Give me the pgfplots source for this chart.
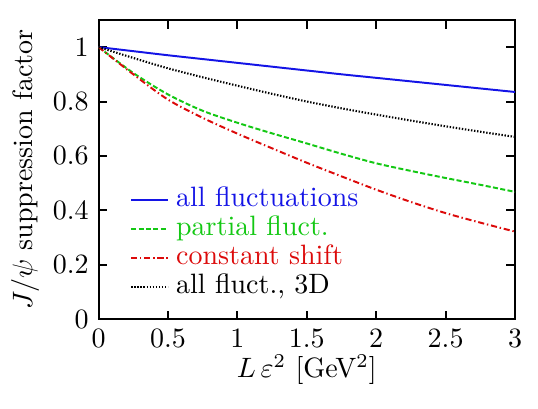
\documentclass[border=0pt]{standalone}
\usepackage{pgfplots}
\pgfplotsset{compat=1.18}

\definecolor{cblue}{RGB}{20,20,230}
\definecolor{cgreen}{RGB}{20,200,20}
\definecolor{cred}{RGB}{220,10,10}

\begin{document}
\begin{tikzpicture}
\begin{axis}[
    scale only axis,
    width=148.7pt,
    height=106.9pt,
    xmin=0, xmax=3,
    ymin=0, ymax=1.1,
    xtick={0,0.5,1,1.5,2,2.5,3},
    ytick={0,0.2,0.4,0.6,0.8,1},
    tick align=inside,
    major tick length=3.1pt,
    axis line style={line width=0.7pt},
    every tick/.style={line width=0.7pt, black},
    xlabel={$L\,\varepsilon^2$ [GeV$^2$]},
    ylabel={$J/\psi$ suppression factor},
    xlabel style={at={(axis description cs:0.5,-0.169)}, anchor=center},
    ylabel style={at={(axis description cs:-0.1765,0.5)}, anchor=center},
    legend style={
        draw=none, fill=none,
        at={(rel axis cs:0.0756,0.443)}, anchor=north west,
        inner sep=0pt, outer sep=0pt,
        row sep=0.85pt, column sep=2.5pt,
        nodes={inner sep=0pt, text height=7pt, text depth=2.5pt},
    },
    legend cell align=left,
    legend image code/.code={
        \draw[#1] (0pt,0pt) -- (13.2pt,0pt);
    },
]
\addplot[cblue, line width=0.7pt, smooth] coordinates {
    (0,1.000) (0.25,0.985) (0.5,0.970) (0.75,0.956) (1,0.942)
    (1.25,0.928) (1.5,0.914) (1.75,0.900) (2,0.887) (2.25,0.874)
    (2.5,0.861) (2.75,0.848) (3,0.835)
};
\addlegendentry[text=cblue]{all fluctuations}
\addplot[cgreen, line width=0.7pt, smooth, dash pattern=on 1.8pt off 0.85pt] coordinates {
    (0,1.000) (0.25,0.905) (0.5,0.826) (0.75,0.766) (1,0.722)
    (1.25,0.683) (1.5,0.646) (1.75,0.608) (2,0.573) (2.25,0.545)
    (2.5,0.519) (2.75,0.494) (3,0.468)
};
\addlegendentry[text=cgreen]{partial fluct.}
\addplot[cred, line width=0.7pt, smooth, dash pattern=on 2.2pt off 1pt on 0.5pt off 1pt] coordinates {
    (0,1.000) (0.25,0.900) (0.5,0.807) (0.75,0.740) (1,0.682)
    (1.25,0.628) (1.5,0.575) (1.75,0.525) (2,0.476) (2.25,0.431)
    (2.5,0.390) (2.75,0.355) (3,0.322)
};
\addlegendentry[text=cred]{constant shift}
\addplot[black, line width=0.75pt, smooth, dash pattern=on 0.5pt off 0.6pt] coordinates {
    (0,1.000) (0.25,0.960) (0.5,0.922) (0.75,0.889) (1,0.858)
    (1.25,0.828) (1.5,0.800) (1.75,0.775) (2,0.752) (2.25,0.730)
    (2.5,0.709) (2.75,0.689) (3,0.670)
};
\addlegendentry[text=black]{all fluct., 3D}
\end{axis}
\path ([xshift=-35.2pt,yshift=-32pt]current axis.south west)
    rectangle ([xshift=8.2pt,yshift=7.1pt]current axis.north east);
\end{tikzpicture}
\end{document}
